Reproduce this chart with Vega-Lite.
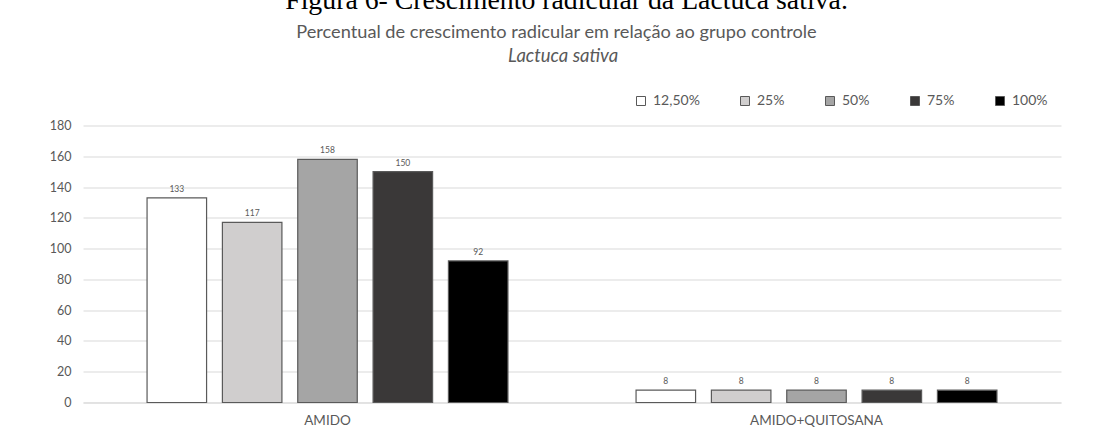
{
  "$schema": "https://vega.github.io/schema/vega-lite/v6.json",
  "width": 978,
  "height": 277,
  "autosize": {"type": "none"},
  "padding": {"left": 83, "top": 125.5, "right": 41, "bottom": 25.5},
  "background": "white",
  "title": {
    "text": "Figura 6- Crescimento radicular da Lactuca sativa.",
    "font": "Liberation Serif",
    "fontSize": 27.8,
    "fontWeight": "normal",
    "color": "#000000",
    "anchor": "middle",
    "offset": 7,
    "dx": -5.5
  },
  "data": {
    "values": [
      {"grupo": "AMIDO", "conc": "12,50%", "valor": 133},
      {"grupo": "AMIDO", "conc": "25%", "valor": 117},
      {"grupo": "AMIDO", "conc": "50%", "valor": 158},
      {"grupo": "AMIDO", "conc": "75%", "valor": 150},
      {"grupo": "AMIDO", "conc": "100%", "valor": 92},
      {"grupo": "AMIDO+QUITOSANA", "conc": "12,50%", "valor": 8},
      {"grupo": "AMIDO+QUITOSANA", "conc": "25%", "valor": 8},
      {"grupo": "AMIDO+QUITOSANA", "conc": "50%", "valor": 8},
      {"grupo": "AMIDO+QUITOSANA", "conc": "75%", "valor": 8},
      {"grupo": "AMIDO+QUITOSANA", "conc": "100%", "valor": 8}
    ]
  },
  "encoding": {
    "x": {
      "field": "grupo",
      "type": "nominal",
      "sort": ["AMIDO", "AMIDO+QUITOSANA"],
      "scale": {"paddingInner": 0.262, "paddingOuter": 0.131},
      "axis": {
        "labelAngle": 0,
        "domain": true,
        "domainColor": "#d9d9d9",
        "domainWidth": 1,
        "ticks": false,
        "grid": false,
        "labelFont": "Lato",
        "labelFontSize": 13.5,
        "labelColor": "#595959",
        "labelPadding": 11,
        "title": "Lactuca sativa",
        "titleX": 479.5,
        "titleY": -341.5,
        "titleAlign": "center",
        "titleBaseline": "alphabetic",
        "titleAnchor": null,
        "titleFont": "Lato",
        "titleFontSize": 18.5,
        "titleFontStyle": "italic",
        "titleFontWeight": "normal",
        "titleColor": "#595959"
      }
    },
    "xOffset": {
      "field": "conc",
      "type": "nominal",
      "sort": ["12,50%", "25%", "50%", "75%", "100%"],
      "scale": {"paddingInner": 0.21, "paddingOuter": 0}
    },
    "y": {
      "field": "valor",
      "type": "quantitative",
      "scale": {"domain": [0, 180], "nice": false},
      "axis": {
        "values": [0, 20, 40, 60, 80, 100, 120, 140, 160, 180],
        "grid": true,
        "gridColor": "#d9d9d9",
        "gridWidth": 1,
        "domain": false,
        "ticks": false,
        "labelFont": "Lato",
        "labelFontSize": 12.5,
        "labelColor": "#595959",
        "labelPadding": 12,
        "title": "Percentual de crescimento radicular em relação ao grupo controle",
        "titleAngle": 0,
        "titleX": 473,
        "titleY": -88.5,
        "titleAlign": "center",
        "titleBaseline": "alphabetic",
        "titleAnchor": null,
        "titleFont": "Lato",
        "titleFontSize": 18.2,
        "titleFontWeight": "normal",
        "titleColor": "#595959"
      }
    }
  },
  "layer": [
    {
      "mark": {"type": "bar", "stroke": "#5a5a5a", "strokeWidth": 1.2},
      "encoding": {
        "color": {
          "field": "conc",
          "type": "nominal",
          "sort": ["12,50%", "25%", "50%", "75%", "100%"],
          "scale": {
            "domain": ["12,50%", "25%", "50%", "75%", "100%"],
            "range": ["#ffffff", "#d0cece", "#a5a5a5", "#3a3838", "#000000"]
          },
          "legend": {
            "orient": "none",
            "legendX": 551,
            "legendY": -31.5,
            "direction": "horizontal",
            "title": null,
            "symbolType": "square",
            "symbolSize": 81,
            "symbolStrokeColor": "#595959",
            "symbolStrokeWidth": 1,
            "symbolOpacity": 1,
            "labelFont": "Lato",
            "labelFontSize": 14,
            "labelColor": "#595959",
            "labelOffset": 5,
            "columnPadding": 38,
            "padding": 0
          }
        }
      }
    },
    {
      "mark": {"type": "text", "dy": -6, "baseline": "alphabetic", "fontSize": 8.5, "font": "Lato", "color": "#595959"},
      "encoding": {"text": {"field": "valor", "type": "quantitative"}}
    }
  ],
  "config": {"view": {"stroke": null}}
}
